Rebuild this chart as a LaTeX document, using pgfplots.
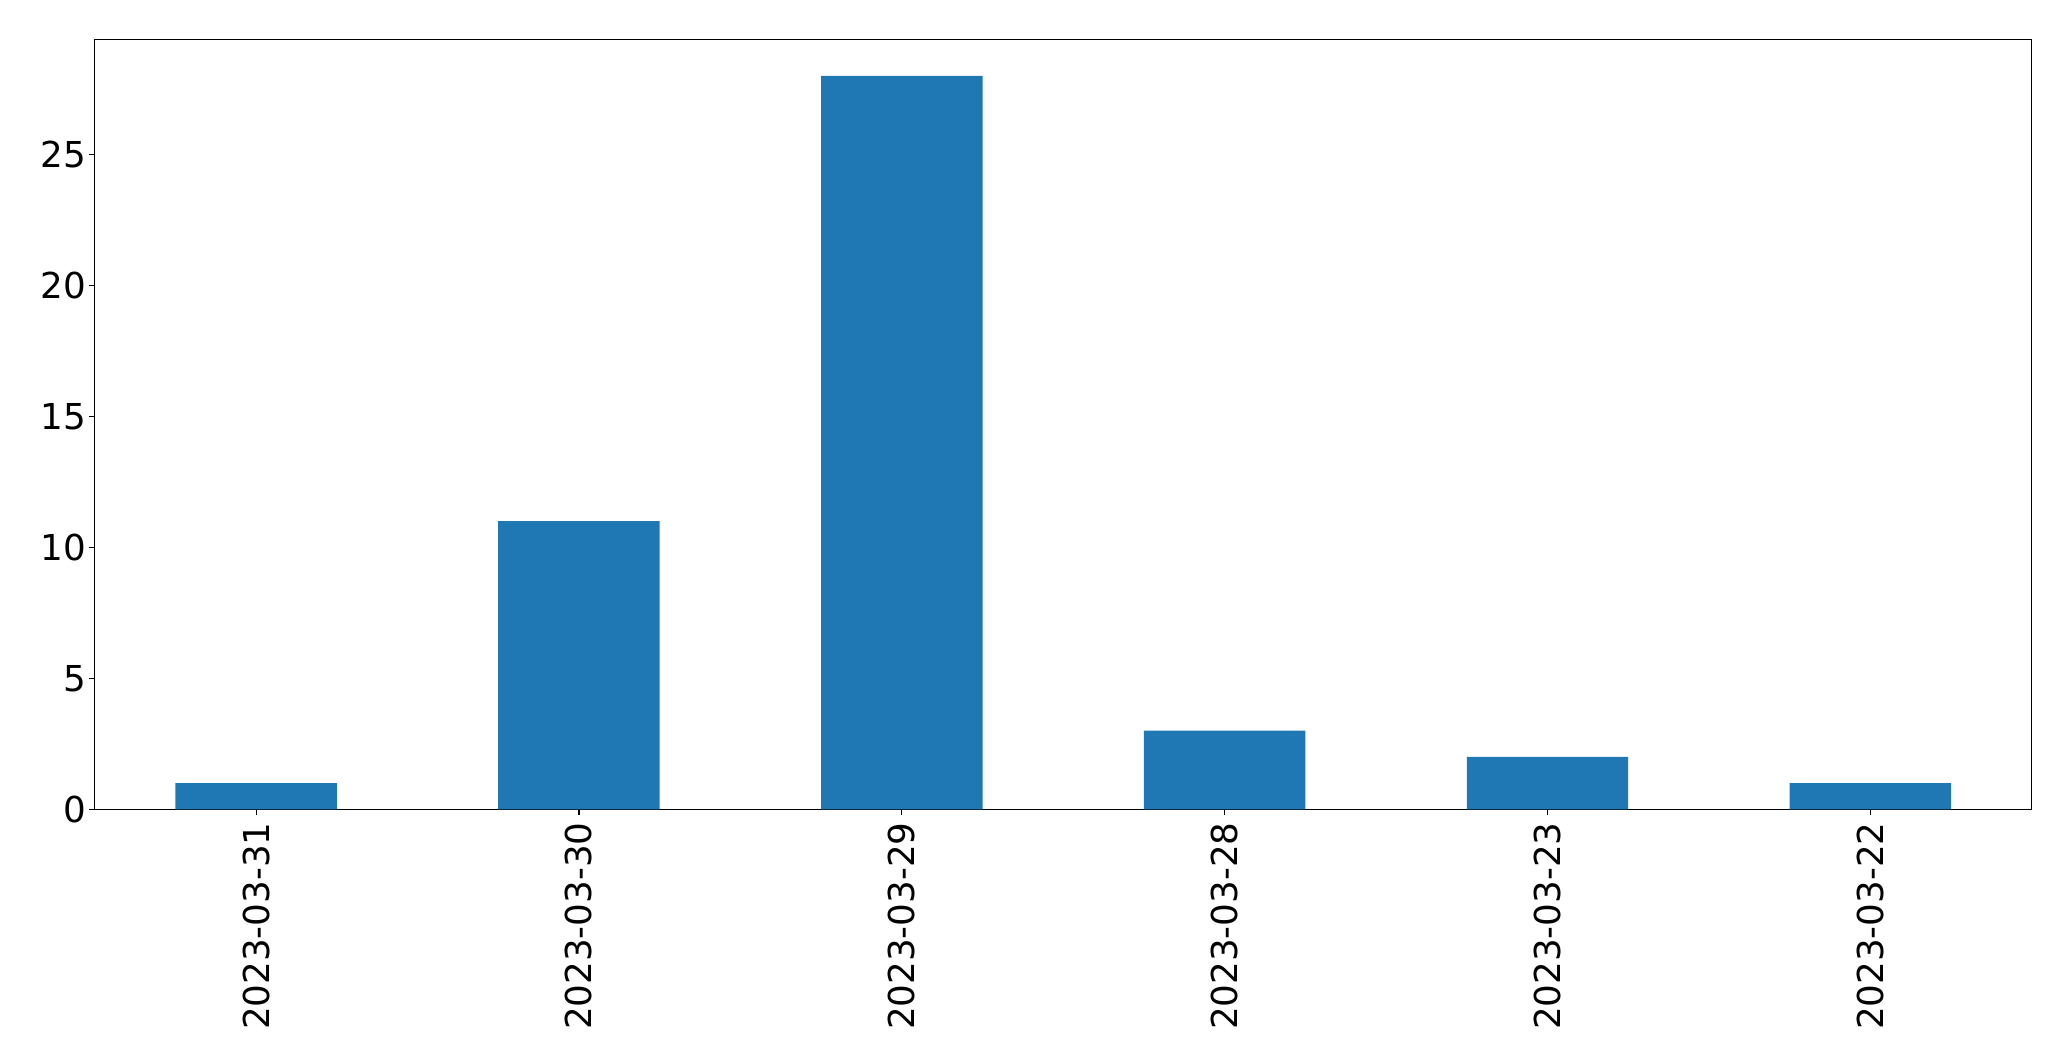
\documentclass[border=0pt]{standalone}
\usepackage{pgfplots}
\pgfplotsset{compat=1.18}
\usepackage{fontspec}
\setmainfont{DejaVu Sans}
\definecolor{mplblue}{HTML}{1F77B4}
\begin{document}
\begin{tikzpicture}
\begin{axis}[
  name=ax,
  at={(0,0)}, anchor=south west,
  scale only axis,
  width=968.5pt, height=385pt,
  xmin=-0.5, xmax=5.5,
  ymin=0, ymax=29.4,
  ytick={0,5,10,15,20,25},
  xtick={0,1,2,3,4,5},
  xticklabels={2023-03-31,2023-03-30,2023-03-29,2023-03-28,2023-03-23,2023-03-22},
  tick align=outside,
  major tick length=2.65pt,
  tick style={line width=0.55pt, black},
  axis line style={line width=0.55pt},
  xtick pos=bottom, ytick pos=left,
  /pgf/number format/assume math mode=true,
  ticklabel style={font=\fontsize{17.85}{21}\selectfont},
  yticklabel style={anchor=east, inner sep=0pt, xshift=-1.4pt},
  xticklabel style={rotate=90, anchor=east, inner sep=0pt, xshift=-3.7pt},
  ybar, bar width=0.5, bar shift=0pt,
  clip=false,
]
\addplot[fill=mplblue, draw=none] coordinates {(0,1) (1,11) (2,28) (3,3) (4,2) (5,1)};
\end{axis}
\pgfresetboundingbox
\path[use as bounding box] (-47.35pt,-125.85pt) rectangle ++(1035.5pt,530.5pt);
\end{tikzpicture}
\end{document}
